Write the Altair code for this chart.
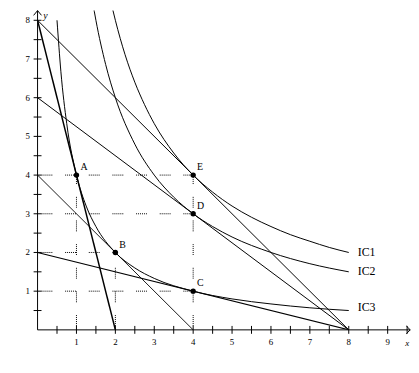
import altair as alt
import pandas as pd

# ---------------- data ----------------
ic1_x = [1.88, 2, 2.25, 2.5, 2.75, 3, 3.5, 4, 4.5, 5, 5.5, 6, 6.5, 7, 7.5, 8]
ic1_y = [8.5, 8, 7.11, 6.4, 5.82, 5.33, 4.57, 4, 3.56, 3.2, 2.91, 2.67, 2.46, 2.29, 2.13, 2]
ic2_x = [1.42, 1.5, 1.75, 2, 2.5, 3, 3.5, 4, 4.5, 5, 6, 7, 8]
ic2_y = [8.45, 8, 6.86, 6, 4.8, 4, 3.43, 3, 2.67, 2.4, 2, 1.71, 1.5]
ic3_x = [0.5, 0.6, 0.75, 1, 1.25, 1.5, 2, 2.5, 3, 4, 5, 6, 7, 8]
ic3_y = [8, 6.67, 5.33, 4, 3.2, 2.67, 2, 1.6, 1.33, 1, 0.8, 0.67, 0.57, 0.5]

ic_labels = ["IC1", "IC2", "IC3"]
ic_label_x = [8.23, 8.23, 8.23]
ic_label_y = [2.0, 1.52, 0.6]

# budget lines (start x, start y, end x, end y)
bl_names = ["A", "E", "D", "B", "C"]
bl_x1 = [0, 0, 0, 0, 0]
bl_y1 = [8, 8, 6, 4, 2]
bl_x2 = [2, 8, 8, 4, 8]
bl_y2 = [0, 0, 0, 0, 0]
bl_w = [1.5, 1, 1, 0.9, 1.1]

pt_names = ["A", "B", "C", "D", "E"]
pt_x = [1, 2, 4, 4, 4]
pt_y = [4, 2, 1, 3, 4]

# dotted guides
g_x1 = [0, 0, 0, 0, 1, 2, 4]
g_y1 = [4, 3, 2, 1, 0, 0, 0]
g_x2 = [4, 4, 2, 4, 1, 2, 4]
g_y2 = [4, 3, 2, 1, 4, 2, 4]

x_ticks = [0.5, 1, 1.5, 2, 2.5, 3, 3.5, 4, 4.5, 5, 5.5, 6, 6.5, 7, 7.5, 8, 8.5, 9, 9.5]
y_ticks = [0.5, 1, 1.5, 2, 2.5, 3, 3.5, 4, 4.5, 5, 5.5, 6, 6.5, 7, 7.5, 8]
x_labels = [1, 2, 3, 4, 5, 6, 7, 8, 9]
y_labels = [1, 2, 3, 4, 5, 6, 7, 8]

# ---------------- tables ----------------
rows = []
for name, xs_, ys_ in [("IC1", ic1_x, ic1_y), ("IC2", ic2_x, ic2_y), ("IC3", ic3_x, ic3_y)]:
    for i, (a, b) in enumerate(zip(xs_, ys_)):
        rows.append({"c": name, "o": i, "x": a, "y": b})
curves = pd.DataFrame(rows)
budget = pd.DataFrame({"n": bl_names, "x": bl_x1, "y": bl_y1, "x2": bl_x2, "y2": bl_y2, "w": bl_w})
points = pd.DataFrame({"n": pt_names, "x": pt_x, "y": pt_y})
guides = pd.DataFrame({"x": g_x1, "y": g_y1, "x2": g_x2, "y2": g_y2})
iclab = pd.DataFrame({"t": ic_labels, "x": ic_label_x, "y": ic_label_y})
xt = pd.DataFrame({"v": x_ticks})
yt = pd.DataFrame({"v": y_ticks})
xl = pd.DataFrame({"v": x_labels})
yl = pd.DataFrame({"v": y_labels})
axes_df = pd.DataFrame({"x": [0, 0], "y": [0, 0], "x2": [9.58, 0], "y2": [0, 8.25]})

W, H = 379, 324
xs = alt.Scale(domain=[0, 9.6], nice=False, zero=False)
ys = alt.Scale(domain=[0, 8.25], nice=False, zero=False)
FONT = "Liberation Serif"
INK = "#000000"

def X(f="x"):
    return alt.X(f"{f}:Q", scale=xs, axis=None)

def Y(f="y"):
    return alt.Y(f"{f}:Q", scale=ys, axis=None)

curve_layer = alt.Chart(curves).mark_line(
    color=INK, strokeWidth=1, interpolate="monotone", clip=True
).encode(x=X(), y=Y(), detail="c:N", order="o:Q")

budget_layer = alt.Chart(budget).mark_rule(color=INK, clip=True).encode(
    x=X(), y=Y(), x2="x2:Q", y2="y2:Q", strokeWidth=alt.StrokeWidth("w:Q", scale=None)
)

guide_layer = alt.Chart(guides).mark_rule(
    color=INK, strokeWidth=1, strokeDash=[1, 1, 1, 1, 1, 1, 1, 1, 1, 1, 1, 13], strokeDashOffset=-4
).encode(x=X(), y=Y(), x2="x2:Q", y2="y2:Q")

axis_layer = alt.Chart(axes_df).mark_rule(color=INK, strokeWidth=1).encode(
    x=X(), y=Y(), x2="x2:Q", y2="y2:Q"
)

xtick_layer = alt.Chart(xt).mark_rule(color=INK, strokeWidth=1).encode(
    x=X("v"), y=alt.value(H - 4), y2=alt.value(H + 4)
)
ytick_layer = alt.Chart(yt).mark_rule(color=INK, strokeWidth=1).encode(
    y=Y("v"), x=alt.value(-4), x2=alt.value(4)
)

xlab_layer = alt.Chart(xl).mark_text(font=FONT, fontSize=9, color=INK, baseline="middle", align="center").encode(
    x=X("v"), y=alt.value(H + 12), text="v:Q"
)
ylab_layer = alt.Chart(yl).mark_text(font=FONT, fontSize=9, color=INK, baseline="middle", align="center").encode(
    y=Y("v"), x=alt.value(-10), text="v:Q"
)

y_arrow = alt.Chart(pd.DataFrame({"x": [0], "y": [8.25]})).mark_point(
    shape="M-1,1.2L0,0L1,1.2", filled=False, stroke=INK, strokeWidth=1, size=64, opacity=1
).encode(x=X(), y=Y())
x_arrow = alt.Chart(pd.DataFrame({"x": [9.58], "y": [0]})).mark_point(
    shape="M-1,-1L0,0L-1,1", filled=False, stroke=INK, strokeWidth=1, size=64, opacity=1
).encode(x=X(), y=Y())

x_title = alt.Chart(pd.DataFrame({"x": [9.5], "t": ["x"]})).mark_text(
    font=FONT, fontSize=9, fontStyle="italic", color=INK, baseline="middle", align="center"
).encode(x=X(), y=alt.value(H + 13), text="t:N")
y_title = alt.Chart(pd.DataFrame({"x": [0.2], "t": ["y"]})).mark_text(
    font=FONT, fontSize=10, fontStyle="italic", color=INK, baseline="middle", align="center"
).encode(x=X(), y=alt.value(5), text="t:N")

point_layer = alt.Chart(points).mark_circle(color=INK, size=30, opacity=1).encode(x=X(), y=Y())
ptlab_layer = alt.Chart(points).mark_text(
    font=FONT, fontSize=10, color=INK, align="left", baseline="middle", dx=4, dy=-8
).encode(x=X(), y=Y(), text="n:N")

iclab_layer = alt.Chart(iclab).mark_text(font=FONT, fontSize=12, color=INK, align="left", baseline="middle").encode(
    x=X(), y=Y(), text="t:N"
)

chart = alt.layer(
    guide_layer, curve_layer, budget_layer, axis_layer, xtick_layer, ytick_layer,
    xlab_layer, ylab_layer, y_arrow, x_arrow, x_title, y_title,
    point_layer, ptlab_layer, iclab_layer
).properties(
    width=W, height=H,
    autosize=alt.AutoSizeParams(type="none"),
    padding={"left": 30, "top": 0, "right": 0, "bottom": 33},
    background="white",
).configure_view(stroke=None)

chart.save("out.html", embed_options={"renderer": "svg", "actions": False})
